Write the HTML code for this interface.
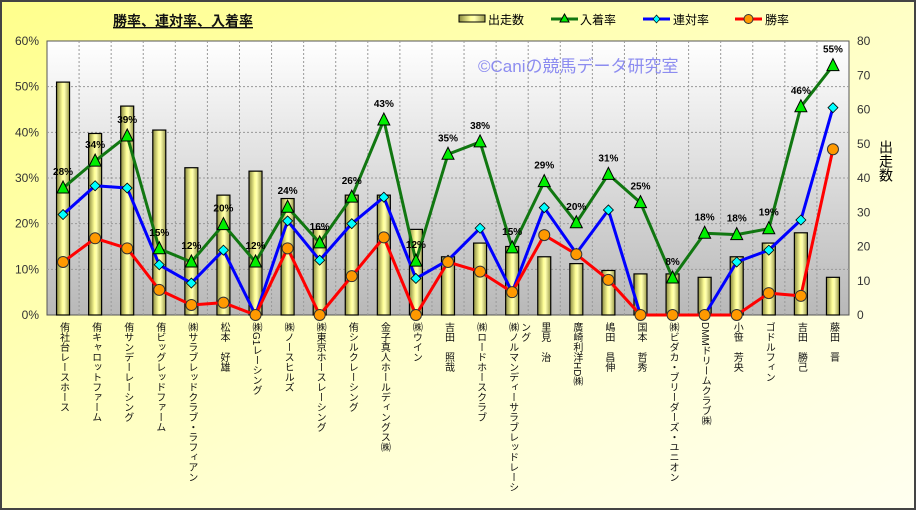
<!DOCTYPE html>
<html><head><meta charset="utf-8"><style>
body{margin:0;width:916px;height:510px;overflow:hidden;font-family:"Liberation Sans","Noto Sans CJK JP",sans-serif}
svg text{font-family:"Liberation Sans","Noto Sans CJK JP",sans-serif}
</style></head><body>
<svg id="c" width="916" height="510" xmlns="http://www.w3.org/2000/svg">
<defs>
<linearGradient id="bg" x1="0" y1="0" x2="1" y2="1"><stop offset="0" stop-color="#ffff8c"/><stop offset="0.6" stop-color="#ffffd0"/><stop offset="1" stop-color="#fffff0"/></linearGradient>
<linearGradient id="pg" x1="0" y1="0" x2="0" y2="1"><stop offset="0" stop-color="#ffffff"/><stop offset="1" stop-color="#b8b8b8"/></linearGradient>
<linearGradient id="bar" x1="0" y1="0" x2="1" y2="0"><stop offset="0" stop-color="#8a8a40"/><stop offset="0.45" stop-color="#ffff99"/><stop offset="0.6" stop-color="#ffffb0"/><stop offset="1" stop-color="#9a9a4a"/></linearGradient>
</defs>
<rect x="1" y="1" width="914" height="508" fill="url(#bg)" stroke="#444" stroke-width="2"/>
<text x="113" y="26" font-size="14" font-weight="bold" fill="#111" text-decoration="underline">勝率、連対率、入着率</text>
<g id="legend">
<g><rect x="459" y="15" width="26" height="7" fill="url(#bar)" stroke="#000"/><text x="488" y="24" font-size="12">出走数</text></g>
<g><line x1="551" y1="19" x2="578" y2="19" stroke="#117711" stroke-width="3"/><polygon points="564.5,14 569,22 560,22" fill="#00ee00" stroke="#000"/><text x="580" y="24" font-size="12">入着率</text></g>
<g><line x1="643" y1="19" x2="670" y2="19" stroke="#0000ff" stroke-width="3"/><polygon points="656.5,15 660,19 656.5,23 653,19" fill="#00ffff" stroke="#000" stroke-width="0.7"/><text x="673" y="24" font-size="12">連対率</text></g>
<g><line x1="735" y1="19" x2="762" y2="19" stroke="#ff0000" stroke-width="3"/><circle cx="748.5" cy="19" r="4.5" fill="#ff9900" stroke="#333"/><text x="765" y="24" font-size="12">勝率</text></g>
</g>
<rect x="47" y="41" width="802" height="274" fill="url(#pg)" stroke="#555"/>
<text x="478" y="72" font-size="17" fill="#8c8cf0">©Caniの競馬データ研究室</text>
<g id="grid"></g><g id="bars"></g><g id="lines"></g><g id="axes"></g>
<text transform="translate(886,140)" font-size="14" writing-mode="tb">出走数</text>
</svg>
<script>
const categories=["侑社台レースホース","侑キャロットファーム","侑サンデーレーシング","侑ビッグレッドファーム","㈱サラブレッドクラブ・ラフィアン","松本　好雄","㈱G1レーシング","㈱ノースヒルズ","㈱東京ホースレーシング","侑シルクレーシング","金子真人ホールディングス㈱","㈱ウイン","吉田　照哉","㈱ロードホースクラブ","㈱ノルマンディーサラブレッドレーシング","里見　治","廣崎利洋HD㈱","嶋田　昌伸","国本　哲秀","㈱ビダカ・ブリーダーズ・ユニオン","DMMドリームクラブ㈱","小笹　芳央","ゴドルフィン","吉田　勝己","藤田　晋"];
const runs=[68,53,61,54,43,35,42,34,25,35,35,25,17,21,20,17,15,13,12,12,11,17,21,24,11];
const placeRate=[27.8,33.7,39.2,14.5,11.6,19.8,11.6,23.6,15.8,25.8,42.7,11.8,35.2,37.9,14.7,29.2,20.2,30.8,24.6,8.1,17.9,17.6,18.9,45.6,54.6];
const rentaiRate=[22,28.3,27.8,11,7,14.2,0,20.6,12,20,25.8,8,12,19,5,23.5,13.5,23,0,0,0,11.6,14.2,20.8,45.4];
const winRate=[11.6,16.8,14.6,5.5,2.2,2.7,0,14.6,0,8.5,17,0,11.6,9.5,5,17.5,13.3,7.7,0,0,0,0,4.8,4.2,36.3];
const leftTicks=[0,10,20,30,40,50,60];
const rightTicks=[0,10,20,30,40,50,60,70,80];
const X0=47,X1=849,Y0=315,Y1=41;
const bw=(X1-X0)/categories.length;
const xc=i=>X0+bw*(i+0.5);
const yL=v=>Y0-(v/60)*(Y0-Y1);
const yR=v=>Y0-(v/80)*(Y0-Y1);
const NS="http://www.w3.org/2000/svg";
function mk(t,a,p){const e=document.createElementNS(NS,t);for(const k in a)e.setAttribute(k,a[k]);p.appendChild(e);return e;}
const G=document.getElementById('grid'),B=document.getElementById('bars'),L=document.getElementById('lines'),A=document.getElementById('axes');
leftTicks.forEach(v=>{if(v>0&&v<60){const l=mk('line',{x1:X0,x2:X1,y1:yL(v),y2:yL(v),stroke:'#999','stroke-dasharray':'2,2'},G);}
 const t=mk('text',{x:X0-8,y:yL(v)+4,'font-size':12,'text-anchor':'end',fill:'#333'},A);t.textContent=v+'%';
 });
rightTicks.forEach(v=>{const t=mk('text',{x:X1+8,y:yR(v)+4,'font-size':12,fill:'#333'},A);t.textContent=v;
 });
for(let i=1;i<categories.length;i++){const l=mk('line',{x1:X0+bw*i,x2:X0+bw*i,y1:Y1,y2:Y0,stroke:'#999','stroke-dasharray':'2,2'},G);
 }
categories.forEach((c,i)=>{
 const r=mk('rect',{x:xc(i)-6.5,y:yR(runs[i]),width:13,height:Y0-yR(runs[i]),fill:'url(#bar)',stroke:'#000','stroke-width':1.2},B);
 
 const parts=c.length>17?[c.slice(0,17),c.slice(17)]:[c];
 parts.forEach((p,j)=>{const t=mk('text',{x:xc(i)+j*12,y:322,'font-size':10,'writing-mode':'tb',fill:'#111'},A);t.textContent=p;
 });
});
function line(arr,color,nm){const pts=arr.map((v,i)=>xc(i)+','+yL(v)).join(' ');
 const p=mk('polyline',{points:pts,fill:'none',stroke:color,'stroke-width':3,'stroke-linejoin':'round'},L);
 }
line(placeRate,'#117711','place-rate-line');line(rentaiRate,'#0000ff','rentai-rate-line');line(winRate,'#ff0000','win-rate-line');
placeRate.forEach((v,i)=>{const x=xc(i),y=yL(v);
 const m=mk('polygon',{points:`${x},${y-7} ${x+6},${y+5} ${x-6},${y+5}`,fill:'#00ee00',stroke:'#000','stroke-width':1},L);
 
 const t=mk('text',{x:x,y:y-13,'font-size':10,'font-weight':'bold','text-anchor':'middle'},L);t.textContent=Math.round(v)+'%';
 });
rentaiRate.forEach((v,i)=>{const x=xc(i),y=yL(v);
 const m=mk('polygon',{points:`${x},${y-5} ${x+5},${y} ${x},${y+5} ${x-5},${y}`,fill:'#00ffff',stroke:'#000','stroke-width':0.8},L);
 });
winRate.forEach((v,i)=>{const m=mk('circle',{cx:xc(i),cy:yL(v),r:5.5,fill:'#ff9900',stroke:'#333','stroke-width':1},L);
 });
</script>
</body></html>
